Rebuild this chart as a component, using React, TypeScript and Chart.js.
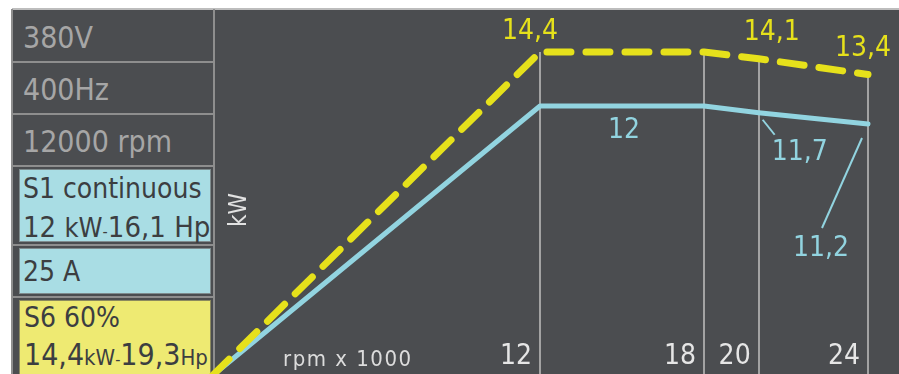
import React, { useEffect, useRef } from "react";
import { Chart, registerables } from "chart.js";

Chart.register(...registerables);

// ---- data ----
const rpm = [0, 12, 18, 20, 24]; // x 1000 rpm
const s6Power = [0, 14.4, 14.4, 14.1, 13.4]; // kW, S6 60%
const s1Power = [0, 12, 12, 11.7, 11.2]; // kW, S1 continuous
const rpmTicks = [12, 18, 20, 24];
const s6LabelIdx = [1, 3, 4];
const s1LabelIdx = [1, 3, 4];
const specRows = ["380V", "400Hz", "12000 rpm"];

// ---- style ----
const BG = "#4b4d50";
const YELLOW = "#e6e11b";
const BLUE = "#92d4e0";
const GRID = "#a3a3a3";
const LINE_GRAY = "#8e8e8e";
const FONT = '"DejaVu Sans Condensed", "DejaVu Sans", sans-serif';
const s6Offsets = [[-10, -20], [13, -26], [-5, -26]];
const s1Offsets = [[84, 25], [41, 40], [-47, 125]];
const s1Leaders = [null, [4, 7, 16, 22], [-6, 14, -46, 104]];

const fmt = (v: number) => String(v).replace(".", ",");

const overlayPlugin = {
  id: "overlay",
  beforeDatasetsDraw(chart: any) {
    const { ctx, chartArea } = chart;
    const x = chart.scales.x;
    const y = chart.scales.y;
    ctx.save();
    ctx.strokeStyle = GRID;
    ctx.lineWidth = 2;
    rpmTicks.forEach((t) => {
      const i = rpm.indexOf(t);
      const px = Math.round(x.getPixelForValue(t));
      ctx.beginPath();
      ctx.moveTo(px, y.getPixelForValue(s6Power[i]));
      ctx.lineTo(px, chartArea.bottom + 10);
      ctx.stroke();
    });
    ctx.restore();
  },
  afterDatasetsDraw(chart: any) {
    const { ctx, chartArea } = chart;
    const x = chart.scales.x;
    const y = chart.scales.y;
    ctx.save();
    ctx.textBaseline = "middle";
    // tick labels
    ctx.font = `28px ${FONT}`;
    ctx.fillStyle = "#e6e6e6";
    ctx.textAlign = "right";
    rpmTicks.forEach((t) => {
      ctx.fillText(String(t), x.getPixelForValue(t) - 8, chartArea.bottom - 19);
    });
    // s6 values
    ctx.textAlign = "center";
    ctx.fillStyle = YELLOW;
    s6LabelIdx.forEach((idx, k) => {
      const [dx, dy] = s6Offsets[k];
      ctx.fillText(fmt(s6Power[idx]), x.getPixelForValue(rpm[idx]) + dx, y.getPixelForValue(s6Power[idx]) + dy);
    });
    // s1 values
    ctx.fillStyle = BLUE;
    ctx.strokeStyle = BLUE;
    ctx.lineWidth = 2;
    s1LabelIdx.forEach((idx, k) => {
      const [dx, dy] = s1Offsets[k];
      const px = x.getPixelForValue(rpm[idx]);
      const py = y.getPixelForValue(s1Power[idx]);
      ctx.fillText(fmt(s1Power[idx]), px + dx, py + dy);
      const l = s1Leaders[k];
      if (l) {
        ctx.beginPath();
        ctx.moveTo(px + l[0], py + l[1]);
        ctx.lineTo(px + l[2], py + l[3]);
        ctx.stroke();
      }
    });
    // axis titles
    ctx.fillStyle = "#dcdcdc";
    ctx.font = `22px ${FONT}`;
    ctx.textAlign = "left";
    (ctx as any).letterSpacing = "1.5px";
    ctx.fillText("rpm x 1000", chartArea.left + 71, chartArea.bottom - 16);
    (ctx as any).letterSpacing = "0px";
    ctx.font = `24px ${FONT}`;
    ctx.fillStyle = "#e2e2e2";
    ctx.translate(chartArea.left + 28, chartArea.top + 194);
    ctx.rotate(-Math.PI / 2);
    ctx.textAlign = "center";
    ctx.fillText("kW", 0, 0);
    ctx.restore();
  },
};

function ChartCanvas() {
  const ref = useRef<HTMLCanvasElement | null>(null);
  useEffect(() => {
    if (!ref.current) return;
    const chart = new Chart(ref.current, {
      type: "line",
      data: {
        datasets: [
          {
            label: "S6 60%",
            data: rpm.map((r, i) => ({ x: r, y: s6Power[i] })),
            borderColor: YELLOW,
            borderWidth: 7,
            borderDash: [24, 15],
            borderCapStyle: "round",
            borderJoinStyle: "round",
            pointRadius: 0,
            tension: 0,
            fill: false,
            clip: false,
          } as any,
          {
            label: "S1",
            data: rpm.map((r, i) => ({ x: r, y: s1Power[i] })),
            borderColor: BLUE,
            borderWidth: 5,
            borderJoinStyle: "round",
            borderCapStyle: "round",
            pointRadius: 0,
            tension: 0,
            fill: false,
            clip: false,
          } as any,
        ],
      },
      options: {
        responsive: false,
        animation: false,
        events: [],
        layout: { padding: { left: 212, right: 31, top: 16, bottom: 4 } },
        scales: {
          x: { type: "linear", min: 0, max: 24, display: false },
          y: { type: "linear", min: 0, max: 16, display: false },
        },
        plugins: { legend: { display: false }, tooltip: { enabled: false } },
      },
      plugins: [overlayPlugin],
    });
    return () => chart.destroy();
  }, []);
  return (
    <canvas
      ref={ref}
      width={899}
      height={380}
      style={{ position: "absolute", left: 0, top: 0, width: 899, height: 380 }}
    />
  );
}

const abs = (s: React.CSSProperties): React.CSSProperties => ({ position: "absolute", boxSizing: "border-box", ...s });

export default function App() {
  const grayText: React.CSSProperties = { color: "#a6a6a6", fontFamily: FONT, fontSize: 30, lineHeight: "30px", whiteSpace: "nowrap" };
  const darkText: React.CSSProperties = { color: "#3c3e41", fontFamily: FONT, whiteSpace: "nowrap" };
  return (
    <div style={abs({ left: 0, top: 0, width: 899, height: 374, background: "#ffffff", overflow: "hidden" })}>
      <div style={abs({ left: 12, top: 8, width: 887, height: 366, background: BG, borderTop: "2px solid #bdbdbd" })} />
      {/* left column borders */}
      <div style={abs({ left: 11, top: 9, width: 2, height: 365, background: LINE_GRAY })} />
      <div style={abs({ left: 213, top: 9, width: 2, height: 365, background: LINE_GRAY })} />
      {[61, 113, 165, 244, 296].map((t) => (
        <div key={t} style={abs({ left: 12, top: t, width: 202, height: 2, background: LINE_GRAY })} />
      ))}
      {specRows.map((s, i) => (
        <div key={s} style={abs({ ...grayText, left: 23, top: 22.6 + i * 52 })}>{s}</div>
      ))}
      {/* colored boxes */}
      <div style={abs({ left: 19, top: 169, width: 192, height: 73, background: "#a9dde4", border: "1px solid #7f8c8e" })} />
      <div style={abs({ left: 19, top: 248, width: 192, height: 46, background: "#a9dde4", border: "1px solid #7f8c8e" })} />
      <div style={abs({ left: 19, top: 300, width: 192, height: 80, background: "#eeea72", border: "1px solid #8c8a5e" })} />
      <div style={abs({ ...darkText, left: 23, top: 174.5, fontSize: 28, lineHeight: "28px" })}>S1 continuous</div>
      <div style={abs({ ...darkText, left: 23, top: 212.5, fontSize: 29, lineHeight: "29px" })}>
        12 <span style={{ fontSize: 27 }}>kW</span><span style={{ fontSize: 16 }}>-</span>16,1 Hp
      </div>
      <div style={abs({ ...darkText, left: 23, top: 258, fontSize: 28, lineHeight: "28px" })}>25 A</div>
      <div style={abs({ ...darkText, left: 24, top: 304, fontSize: 28, lineHeight: "28px" })}>S6 60%</div>
      <div style={abs({ ...darkText, left: 24, top: 339.6, fontSize: 30, lineHeight: "30px" })}>
        14,4<span style={{ fontSize: 22 }}>kW</span><span style={{ fontSize: 16 }}>-</span>19,3<span style={{ fontSize: 22 }}>Hp</span>
      </div>
      <ChartCanvas />
    </div>
  );
}
